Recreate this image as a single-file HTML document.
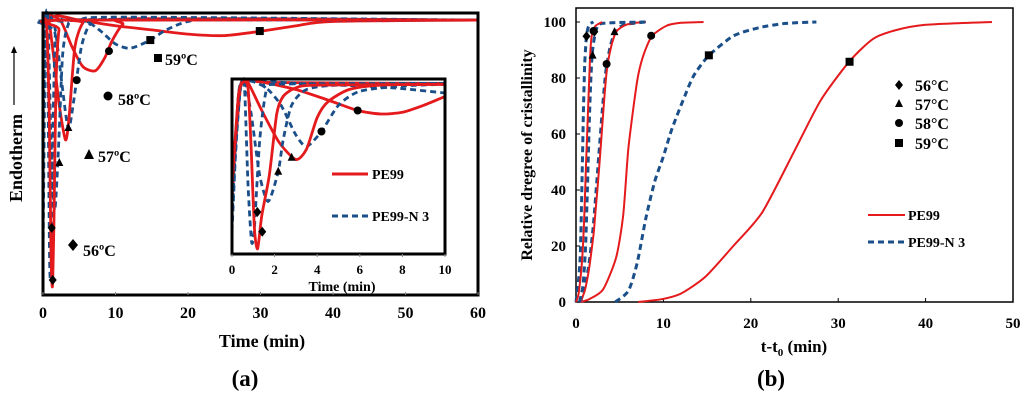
<!DOCTYPE html>
<html><head><meta charset="utf-8"><style>
body{margin:0;background:#fff;width:1024px;height:400px;overflow:hidden}
svg{display:block;font-family:"Liberation Serif",serif;font-weight:bold}
</style></head><body>
<svg id="c" width="1024" height="400" viewBox="0 0 1024 400">
<g id="A"></g>
<g id="B"></g>
</svg>
<script>
// ---------- Panel (a) data: [time, signal 0..100] ----------
const aRed56=[[0,97],[0.5,96],[0.85,65],[1.1,15],[1.3,3],[1.5,25],[1.8,75],[2.2,94],[3,97.5],[60,97.5]];
const aBlue56=[[0,13],[0.3,90],[0.5,98],[0.7,70],[0.9,15],[1.05,7],[1.3,50],[1.7,92],[2.3,97.5],[60,97.5]];
const aRed57=[[0,97],[0.7,99],[1.4,86],[2.2,68],[3.1,55],[3.6,63],[4.4,88],[5.5,96.5],[7,97.5],[60,97.5]];
const aBlue57=[[0,60],[0.4,98],[0.7,97],[1.1,55],[1.6,30],[2.1,50],[2.7,85],[3.5,96],[5,97.5],[60,97.5]];
const aRed58=[[0,97],[1,99],[2.5,97],[4,88],[5.5,81],[7.2,79.5],[8.5,84],[9.5,90],[11,96],[13,98],[60,97.5]];
const aBlue58=[[0,97],[0.9,99],[1.7,94],[2.6,75],[3.5,59],[4.3,70],[5.3,88],[6.5,96],[9,98.5],[60,97.5]];
const aRed59=[[0,97],[2,99],[5,97.5],[10,95.5],[15,94],[20,92.5],[25,92],[30,93.5],[35,95.5],[40,97],[60,97.5]];
const aBlue59=[[0,97],[1,99],[3,97.5],[6,97],[8,93.5],[10,89],[12,87.5],[14.5,90],[17,94],[20,97],[25,98],[60,97.5]];
const aDiamonds=[[1.34,5.3],[1.2,23.8]];
const aTriangles=[[2.25,46.8],[3.5,59.2]];
const aCircles=[[4.65,76.2],[9.1,86.5]];
const aSquares=[[14.8,90.4],[29.9,93.6]];
const aTicks=[0,10,20,30,40,50,60];
// inset (0-10 min)
const iRed56=[[0,40],[0.3,90],[0.5,98],[0.75,95],[0.9,60],[1.05,15],[1.2,3],[1.4,22],[1.75,45],[2.1,80],[2.4,90],[3,95],[4,96.5],[10,97]];
const iBlue56=[[0,13],[0.3,90],[0.5,98],[0.6,92],[0.75,40],[0.92,7],[1.05,15],[1.3,65],[1.6,93],[2,97],[10,97.5]];
const iRed57=[[0,30],[0.3,90],[0.6,99],[0.8,97],[1.4,82],[2.2,64],[3,54],[3.5,60],[4,78],[4.5,87],[5.5,94],[7,96.5],[10,97]];
const iBlue57=[[0,20],[0.3,90],[0.6,98],[0.9,80],[1.3,45],[1.7,30],[2.17,47],[2.4,65],[2.8,85],[3.5,94],[5,96.5],[10,97.5]];
const iRed58=[[0,35],[0.4,95],[0.8,99],[1.5,98],[3,94],[4.5,88],[5.9,82],[7,80],[8,81],[9,85],[10,90]];
const iBlue58=[[0,30],[0.4,95],[0.8,99],[1.6,95],[2.3,85],[3,68],[3.5,61.5],[4.2,70],[5,85],[6,93],[8,96],[10,97]];
const iRed59=[[0,40],[0.4,96],[0.8,99],[2,98],[10,97.5]];
const iBlue59=[[0,25],[0.4,95],[0.9,99],[3,97.5],[6,96],[8,94.5],[10,92]];
const iDiamonds=[[1.19,24],[1.42,12.7]];
const iTriangles=[[2.17,47],[2.8,55]];
const iCircles=[[4.2,70],[5.9,82]];
const iTicks=[0,2,4,6,8,10];
// ---------- Panel (b) data ----------
const bRed56=[[0,0],[0.3,3],[0.7,15],[1,35],[1.15,50],[1.4,70],[1.6,87],[1.8,95],[2.2,98.5],[3,100]];
const bBlue56=[[0,0],[0.3,8],[0.5,18],[0.7,45],[0.85,68],[1,85],[1.2,95],[1.5,99],[2,100]];
const bRed57=[[0.5,0],[1,4],[1.5,12],[2,24],[2.2,31],[2.7,50],[3.1,67],[3.5,82],[4,91],[4.6,96.5],[5.5,98.7],[6.5,99.6],[8,100]];
const bBlue57=[[0.4,0],[0.8,6],[1.1,20],[1.3,40],[1.5,62],[1.7,80],[1.9,90],[2.3,97],[3,99.5],[8,100]];
const bRed58=[[0.5,0],[1.5,1],[3.1,4.5],[4.6,16],[5.4,31],[6,55],[7,79],[7.7,88],[8.7,95],[10.4,98.7],[12,99.7],[14.6,100]];
const bBlue58=[[0.5,0],[1,5],[1.5,14],[2,28],[2.6,52],[3,68],[3.4,82],[3.9,91],[4.5,96.5],[5.5,99],[8,100]];
const bRed59=[[7.1,0],[9.8,1],[12,3],[14.8,9],[18,20],[21.3,32],[25,54],[28,72],[31.3,86],[34,94],[36.5,97],[40,99],[47.6,100]];
const bBlue59=[[4.5,0],[6,4],[7,14],[8,30],[9,43],[10,52],[11,62],[12.5,74],[13.5,81],[15.2,88],[18,95],[21,98],[24,99.5],[27.5,100]];
const bDiamonds=[[1.2,94.9],[2.1,96.5]];
const bTriangles=[[1.9,88],[4.4,96.4]];
const bCircles=[[2.0,96.8],[3.5,85],[8.6,95.1]];
const bSquares=[[15.2,88.1],[31.3,85.8]];
const bXTicks=[0,10,20,30,40,50];
const bYTicks=[0,20,40,60,80,100];

const NS='http://www.w3.org/2000/svg';
function mk(parent,tag,attrs,text){const e=document.createElementNS(NS,tag);for(const k in attrs)e.setAttribute(k,attrs[k]);if(text!==undefined)e.textContent=text;parent.appendChild(e);return e;}
function pathD(pts,sx,sy){
  const P=pts.map(p=>[sx(p[0]),sy(p[1])]);let d='M'+P[0][0].toFixed(1)+','+P[0][1].toFixed(1);
  for(let i=0;i<P.length-1;i++){const p0=P[i-1]||P[i],p1=P[i],p2=P[i+1],p3=P[i+2]||P[i+1];
    const t=0.12;const c1=[p1[0]+(p2[0]-p0[0])*t,p1[1]+(p2[1]-p0[1])*t],c2=[p2[0]-(p3[0]-p1[0])*t,p2[1]-(p3[1]-p1[1])*t];
    d+='C'+c1.map(v=>v.toFixed(1))+' '+c2.map(v=>v.toFixed(1))+' '+p2[0].toFixed(1)+','+p2[1].toFixed(1);}
  return d;}
const RED='#e41a1c',BLUE='#1a4f8a';
function series(g,pts,sx,sy,color,name,w){
  const p=mk(g,'path',{d:pathD(pts,sx,sy),fill:'none',stroke:color,'stroke-width':w,'stroke-dasharray':color===BLUE?'6,4':'none','stroke-linejoin':'round'});
  
  
}
function marker(g,type,x,y,name,s){
  s=s||4;let e;
  if(type==='d')e=mk(g,'polygon',{points:`${x},${y-s-1} ${x+s},${y} ${x},${y+s+1} ${x-s},${y}`});
  else if(type==='t')e=mk(g,'polygon',{points:`${x},${y-s-1} ${x+s},${y+s-1} ${x-s},${y+s-1}`});
  else if(type==='c')e=mk(g,'circle',{cx:x,cy:y,r:s});
  else e=mk(g,'rect',{x:x-s,y:y-s,width:2*s,height:2*s});
  e.setAttribute('fill','#000');
  
  
}
function txt(g,x,y,s,size,anchor,name,extra){const t=mk(g,'text',Object.assign({x:x,y:y,'font-size':size,'text-anchor':anchor||'start',fill:'#000'},extra||{}),s);
  
  return t;}

// ---------- Panel A ----------
const A=document.getElementById('A');
const ax=t=>43+t*(478-43)/60, ay=v=>295-v*(295-13)/100;
[[aRed59,RED,'red-59'],[aBlue59,BLUE,'blue-59'],[aRed58,RED,'red-58'],[aBlue58,BLUE,'blue-58'],[aRed57,RED,'red-57'],[aBlue57,BLUE,'blue-57'],[aBlue56,BLUE,'blue-56'],[aRed56,RED,'red-56']].forEach(s=>series(A,s[0],ax,ay,s[1],'curve-'+s[2],2.8));
mk(A,'rect',{x:43,y:13,width:435,height:282,fill:'none',stroke:'#000','stroke-width':3});
aTicks.forEach(t=>{txt(A,ax(t),318,t,16,'middle','x-tick-label');mk(A,'line',{x1:ax(t),x2:ax(t),y1:295,y2:292,stroke:'#888'});});
txt(A,262,347,'Time (min)',18,'middle','x-axis-title');
txt(A,245,386,'(a)',23,'middle','panel-label-a');
txt(A,22,158,'Endotherm',18,'middle','y-axis-title',{transform:'rotate(-90 22 158)'});
const arr=mk(A,'g',{});
mk(arr,'line',{x1:14,y1:105,x2:14,y2:51,stroke:'#000','stroke-width':1.2});
mk(arr,'polygon',{points:'14,46 11,53 17,53',fill:'#000'});
aDiamonds.forEach(p=>marker(A,'d',ax(p[0]),ay(p[1]),'marker-56'));
aTriangles.forEach(p=>marker(A,'t',ax(p[0]),ay(p[1]),'marker-57'));
aCircles.forEach(p=>marker(A,'c',ax(p[0]),ay(p[1]),'marker-58'));
aSquares.forEach(p=>marker(A,'s',ax(p[0]),ay(p[1]),'marker-59'));
marker(A,'d',73,245,'label-marker-56',5);txt(A,83,256,'56ºC',16,'start','label-56');
marker(A,'t',89,155,'label-marker-57',5);txt(A,98,162,'57ºC',16,'start','label-57');
marker(A,'c',108,96,'label-marker-58',4.5);txt(A,118,105,'58ºC',16,'start','label-58');
marker(A,'s',158,58,'label-marker-59',4);txt(A,165,65,'59ºC',16,'start','label-59');
// inset
const I=mk(A,'g',{});
const ix=t=>232+t*(445-232)/10, iy=v=>254-v*(254-79)/100;
mk(I,'rect',{x:232,y:79,width:213,height:175,fill:'#fff',stroke:'none'});
[[iRed59,RED,'red-59'],[iBlue59,BLUE,'blue-59'],[iRed58,RED,'red-58'],[iBlue58,BLUE,'blue-58'],[iRed57,RED,'red-57'],[iBlue57,BLUE,'blue-57'],[iBlue56,BLUE,'blue-56'],[iRed56,RED,'red-56']].forEach(s=>series(I,s[0],ix,iy,s[1],'inset-curve-'+s[2],2.8));
mk(I,'rect',{x:232,y:79,width:213,height:175,fill:'none',stroke:'#000','stroke-width':3});
iDiamonds.forEach(p=>marker(I,'d',ix(p[0]),iy(p[1]),'inset-marker-56'));
iTriangles.forEach(p=>marker(I,'t',ix(p[0]),iy(p[1]),'inset-marker-57'));
iCircles.forEach(p=>marker(I,'c',ix(p[0]),iy(p[1]),'inset-marker-58'));
iTicks.forEach(t=>{txt(I,ix(t),274,t,13,'middle','inset-x-tick-label');mk(I,'line',{x1:ix(t),x2:ix(t),y1:254,y2:257,stroke:'#888'});});
txt(I,342,291,'Time (min)',14,'middle','inset-x-axis-title');
mk(I,'line',{x1:332,y1:174,x2:368,y2:174,stroke:RED,'stroke-width':3});
txt(I,372,179,'PE99',14,'start','legend-pe99');
mk(I,'line',{x1:332,y1:216,x2:368,y2:216,stroke:BLUE,'stroke-width':3,'stroke-dasharray':'6,4'});
txt(I,372,221,'PE99-N 3',14,'start','legend-pe99-n3');

// ---------- Panel B ----------
const B=document.getElementById('B');
const bx=t=>576+t*(1013-576)/50, by=v=>302-v*(302-22)/100;
mk(B,'rect',{x:576,y:8,width:437,height:294,fill:'none',stroke:'#000','stroke-width':1.5});
bXTicks.forEach(t=>{txt(B,bx(t),328,t,15,'middle','x-tick-label');mk(B,'line',{x1:bx(t),x2:bx(t),y1:302,y2:298,stroke:'#000'});});
bYTicks.forEach(v=>{txt(B,566,by(v)+5,v,15,'end','y-tick-label');mk(B,'line',{x1:576,x2:580,y1:by(v),y2:by(v),stroke:'#000'});});
const xt=txt(B,794,352,'t-t',17,'middle','x-axis-title');
mk(xt,'tspan',{'font-size':11,dy:4},'0');mk(xt,'tspan',{dy:-4},' (min)');
txt(B,532,155,'Relative dregree of cristallinity',16,'middle','y-axis-title',{transform:'rotate(-90 532 155)'});
txt(B,771,386,'(b)',23,'middle','panel-label-b');
[[bRed59,RED,'red-59'],[bBlue59,BLUE,'blue-59'],[bRed58,RED,'red-58'],[bBlue58,BLUE,'blue-58'],[bRed57,RED,'red-57'],[bBlue57,BLUE,'blue-57'],[bBlue56,BLUE,'blue-56'],[bRed56,RED,'red-56']].forEach(s=>series(B,s[0],bx,by,s[1],'curve-'+s[2],s[1]===BLUE?3:2));
bDiamonds.forEach(p=>marker(B,'d',bx(p[0]),by(p[1]),'marker-56'));
bTriangles.forEach(p=>marker(B,'t',bx(p[0]),by(p[1]),'marker-57'));
bCircles.forEach(p=>marker(B,'c',bx(p[0]),by(p[1]),'marker-58'));
bSquares.forEach(p=>marker(B,'s',bx(p[0]),by(p[1]),'marker-59'));
marker(B,'d',899,85,'legend-marker-56');txt(B,915,91,'56°C',16,'start','legend-56');
marker(B,'t',899,104,'legend-marker-57');txt(B,915,110,'57°C',16,'start','legend-57');
marker(B,'c',899,123,'legend-marker-58');txt(B,915,129,'58°C',16,'start','legend-58');
marker(B,'s',899,143,'legend-marker-59');txt(B,915,149,'59°C',16,'start','legend-59');
mk(B,'line',{x1:868,y1:215,x2:905,y2:215,stroke:RED,'stroke-width':2});
txt(B,908,220,'PE99',14,'start','legend-pe99');
mk(B,'line',{x1:868,y1:242,x2:905,y2:242,stroke:BLUE,'stroke-width':3,'stroke-dasharray':'6,4'});
txt(B,908,247,'PE99-N 3',14,'start','legend-pe99-n3');
</script>
</body></html>
